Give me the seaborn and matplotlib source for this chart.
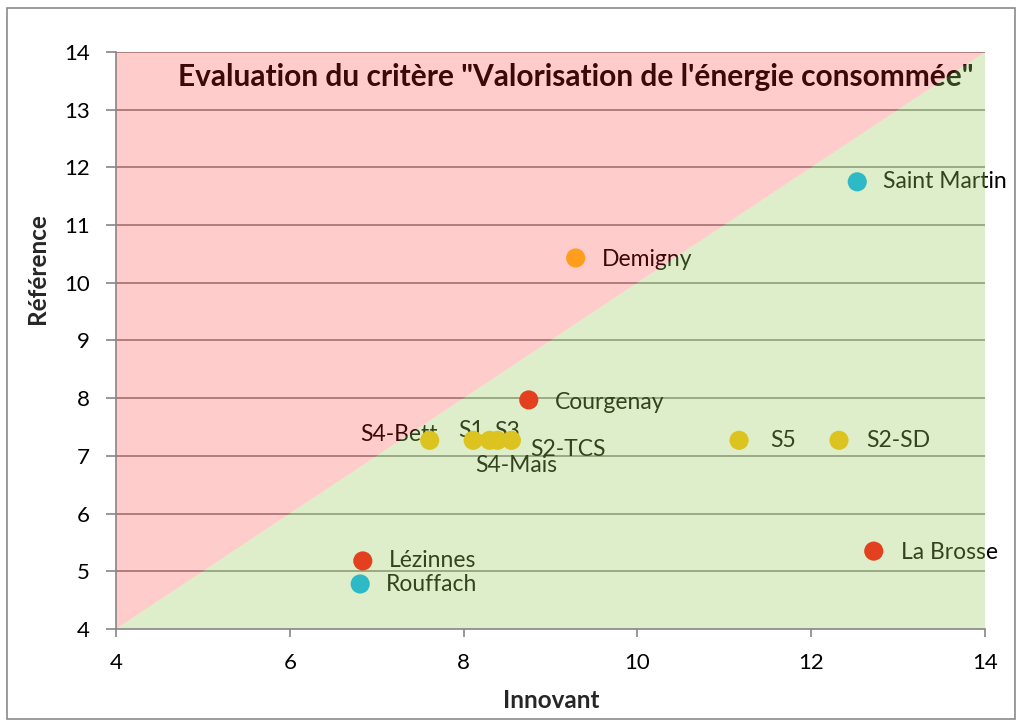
import matplotlib
matplotlib.use("Agg")
import matplotlib.pyplot as plt
import seaborn as sns
import pandas as pd
from matplotlib.patches import Polygon, Rectangle

names = ["Saint Martin", "Demigny", "Courgenay", "S4-Bett", "S1", "S4-Mais", "S3", "S2-TCS",
         "S5", "S2-SD", "La Brosse", "Lézinnes", "Rouffach"]
innovant = [12.53, 9.29, 8.75, 7.61, 8.11, 8.30, 8.39, 8.55, 11.17, 12.32, 12.72, 6.84, 6.81]
reference = [11.75, 10.43, 7.97, 7.27, 7.27, 7.27, 7.27, 7.27, 7.27, 7.27, 5.35, 5.18, 4.78]
groups = ["teal", "orange", "red", "yellow", "yellow", "yellow", "yellow", "yellow",
          "yellow", "yellow", "red", "red", "teal"]
palette = {"teal": "#2DB9C6", "orange": "#FF9D1C", "red": "#E2401E", "yellow": "#DCC31F"}
# label offsets in pixels (dx, dy) and alignment
offsets = {"Saint Martin": (26, 0, "left"), "Demigny": (26, -2, "left"), "Courgenay": (26, -3, "left"),
           "S4-Bett": (8, 6, "right"), "S1": (-2, 10, "center"), "S4-Mais": (27, -25, "center"),
           "S3": (10, 9, "center"), "S2-TCS": (19, -9, "left"), "S5": (31, 0, "left"),
           "S2-SD": (27, 0, "left"), "La Brosse": (27, -1, "left"), "Lézinnes": (26, 0, "left"),
           "Rouffach": (26, -1, "left")}

df = pd.DataFrame({"name": names, "Innovant": innovant, "Référence": reference, "group": groups})

sns.set_style("white")
plt.rcParams["font.family"] = ["Lato", "DejaVu Sans"]

fig = plt.figure(figsize=(10.22, 7.2), dpi=100)
ax = fig.add_axes([116/1022, 1-629/720, (985-116)/1022, (629-52)/720])

for yv in range(5, 15):
    ax.axhline(yv, color="#868686", lw=1.2, zorder=1)

# translucent zones drawn over the text and grid (as in the original)
ax.add_patch(Polygon([[4, 4], [4, 14], [14, 14]], closed=True, facecolor=(1.0, 40/255, 40/255),
                     alpha=0.235, edgecolor="none", zorder=2.5))
ax.add_patch(Polygon([[4, 4], [14, 4], [14, 14]], closed=True, facecolor=(157/255, 206/255, 94/255),
                     alpha=0.33, edgecolor="none", zorder=2.5))

sns.scatterplot(data=df, x="Innovant", y="Référence", hue="group", palette=palette,
                s=190, edgecolor="none", legend=False, ax=ax, zorder=3)

for n, x, y in zip(names, innovant, reference):
    dx, dy, ha = offsets[n]
    ax.annotate(n, (x, y), xytext=(dx, dy), textcoords="offset pixels", ha=ha, va="center",
                fontsize=16.5, color="#000000", zorder=2, annotation_clip=False)

ax.set_xlim(4, 14)
ax.set_ylim(4, 14)
ax.set_xticks(range(4, 15, 2))
ax.set_yticks(range(4, 15, 1))
ax.tick_params(axis="both", labelsize=16, labelcolor="#000000", color="#868686", width=1.2,
               direction="out")
ax.tick_params(axis="x", bottom=True, length=6, pad=11)
ax.tick_params(axis="y", left=True, length=7, pad=12)
for s in ["top", "right"]:
    ax.spines[s].set_visible(False)
for s in ["left", "bottom"]:
    ax.spines[s].set_color("#868686")
    ax.spines[s].set_linewidth(1.2)
    ax.spines[s].set_zorder(4)
ax.set_xlabel("Innovant", fontsize=17.5, fontweight="bold")
ax.set_ylabel("Référence", fontsize=17.5, fontweight="bold")
ax.xaxis.set_label_coords((551 - 116) / 869, (629 - 700) / 577)
ax.xaxis.label.set_va("center")
ax.yaxis.set_label_coords((38 - 116) / 869, (629 - 269) / 577)
ax.yaxis.label.set_va("center")

ax.text((178 - 116) / 869, (629 - 77) / 577, "Evaluation du critère \"Valorisation de l'énergie consommée\"",
        transform=ax.transAxes, ha="left", va="center", fontsize=21.5, fontweight="bold",
        color="#000000", zorder=2)

fig.patches.append(Rectangle((7/1022, 1/720), 1008/1022, 711/720, transform=fig.transFigure,
                             fill=False, edgecolor="#8A8A8A", lw=1.2))

fig.savefig("out.png", dpi=100)
